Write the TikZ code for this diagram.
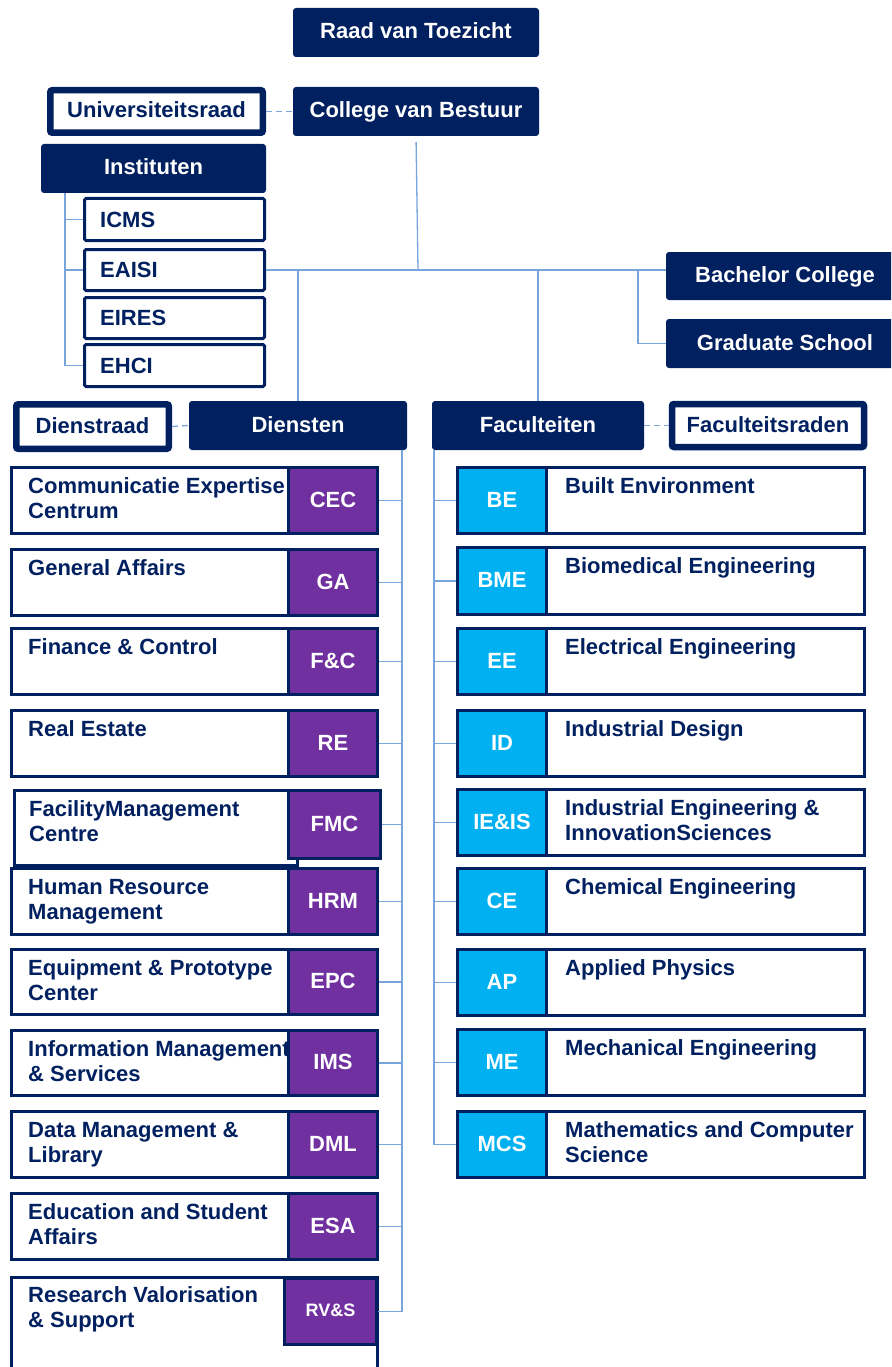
\documentclass[tikz,border=0pt]{standalone}
\usepackage{fontspec}
\setmainfont{Liberation Sans}
\definecolor{navy}{RGB}{0,32,96}
\definecolor{tuepurple}{RGB}{112,48,160}
\definecolor{tuecyan}{RGB}{0,176,240}
\definecolor{wire}{RGB}{120,165,220}
\newcommand\lblfont{\fontsize{22}{25}\selectfont\bfseries}

\tikzset{
  every node/.style={font=\lblfont},
  centred/.style={text height=16pt, text depth=3pt},
  head/.style={fill=navy, draw=none, rounded corners=3pt, text=white, inner sep=0pt, centred},
  council/.style={draw=navy, line width=6.5pt, fill=white, rounded corners=2pt, text=navy,
    inner sep=0pt, centred},
  instbox/.style={draw=navy, line width=3pt, fill=white, rounded corners=1.5pt, inner sep=0pt},
  bodybox/.style={draw=navy, line width=3pt, fill=white, inner sep=0pt},
  svcabbr/.style={draw=navy, line width=3pt, fill=tuepurple, text=white, inner sep=0pt, centred},
  facabbr/.style={draw=navy, line width=3pt, fill=tuecyan, text=white, inner sep=0pt, centred},
  rowtext/.style={text=navy, anchor=base west, inner sep=0pt},
  link/.style={draw=wire, line width=1.3pt},
  dashlink/.style={draw=wire, line width=1.3pt, dash pattern=on 6pt off 4pt},
}

% box given by its outer corners (x1,y1)-(x2,y2) and border width
\newcommand\panel[8]{%
  \pgfmathsetmacro\pw{#5-#3-#7}%
  \pgfmathsetmacro\ph{#6-#4-#7}%
  \node[#1, minimum width=\pw pt, minimum height=\ph pt, outer sep=#7/2 pt,
        anchor=north west] (#2) at (#3,#4) {#8};}

% service row: name, top, bottom, abbreviation, first line, second line
\newcommand\svcrow[6]{%
  \panel{bodybox}{#1-body}{10}{#2}{379}{#3}{3}{}%
  \node[rowtext] (#1-t1) at (28,#2+27) {#5};%
  \if\relax\detokenize{#6}\relax\else\node[rowtext] (#1-t2) at (28,#2+52) {#6};\fi
  \panel{svcabbr}{#1}{287}{#2}{379}{#3}{3}{#4}%
  \draw[link] (#1.east) -- (#1.east -| dbus);}

% faculty row: name, top, bottom, abbreviation, first line, second line
\newcommand\facrow[6]{%
  \panel{bodybox}{#1-body}{456}{#2}{866}{#3}{3}{}%
  \node[rowtext] (#1-t1) at (565,#2+27) {#5};%
  \if\relax\detokenize{#6}\relax\else\node[rowtext] (#1-t2) at (565,#2+52) {#6};\fi
  \panel{facabbr}{#1}{456}{#2}{548}{#3}{3}{#4}%
  \draw[link] (#1.west) -- (#1.west -| fbus);}

% institute box: name, top, bottom, text
\newcommand\instrow[4]{%
  \panel{instbox}{#1}{83}{#2}{266}{#3}{3}{}%
  \node[rowtext] (#1-t) at (100,{(#2+#3)/2+7.5}) {#4};}

\begin{document}
\begin{tikzpicture}[x=1pt,y=-1pt]
\useasboundingbox (0,0) rectangle (891,1367);
\clip (0,0) rectangle (891,1367);

% bus lines
\coordinate (hub) at (418,270);
\coordinate (gradtap) at (638,270);
\coordinate (ibus) at (65,193);
\coordinate (dbus) at (402,450);
\coordinate (fbus) at (434,450);

% board level
\panel{head}{rvt}{293}{8}{539}{57}{0}{Raad van Toezicht}
\panel{head}{cvb}{293}{87}{539}{136}{0}{College van Bestuur}
\panel{council}{univ}{47}{87}{266}{136}{6.5}{Universiteitsraad}
\panel{head}{inst}{41}{144}{266}{193}{0}{Instituten}

% institutes
\instrow{icms}{197}{242}{ICMS}
\instrow{eaisi}{248}{292}{EAISI}
\instrow{eires}{296}{340}{EIRES}
\instrow{ehci}{343}{388}{EHCI}

% schools
\panel{head}{bach}{666}{252}{904}{300}{0}{Bachelor College}
\panel{head}{grad}{666}{319}{904}{368}{0}{Graduate School}

% services and faculties heads
\panel{council}{dienstraad}{13}{401}{172}{452}{6.5}{Dienstraad}
\panel{head}{diensten}{189}{401}{407}{450}{0}{Diensten}
\panel{head}{fac}{432}{401}{644}{450}{0}{Faculteiten}
\panel{council}{facraden}{669}{401}{867}{450}{6}{Faculteitsraden}

% main tree
\draw[link, shorten <=6pt] (cvb.south) -- (hub);
\draw[link] (eaisi.east) -- (eaisi.east -| bach.west);
\draw[link] (diensten.north) -- (diensten.north |- hub);
\draw[link] (fac.north) -- (fac.north |- hub);
\draw[link] (grad.west) -| (gradtap);

% institute branches
\draw[link] (ibus) -- (ibus |- ehci.west);
\draw[link] (ibus |- icms.west) -- (icms.west);
\draw[link] (ibus |- eaisi.west) -- (eaisi.west);
\draw[link] (ibus |- ehci.west) -- (ehci.west);

% advisory councils
\draw[dashlink] (univ.east) -- (cvb.west);
\draw[dashlink] (dienstraad.east) -- (diensten.west);
\draw[dashlink] (fac.east) -- (facraden.west);

% services
\svcrow{cec}{466}{535}{CEC}{Communicatie Expertise}{Centrum}
\svcrow{ga}{548}{617}{GA}{General Affairs}{}
\svcrow{fc}{627}{696}{F\&C}{Finance \& Control}{}
\svcrow{re}{709}{778}{RE}{Real Estate}{}
\panel{bodybox}{fmc-body}{13}{789}{299}{867}{3}{}
\node[rowtext] (fmc-t1) at (29,816) {FacilityManagement};
\node[rowtext] (fmc-t2) at (29,841) {Centre};
\panel{svcabbr}{fmc}{287}{789}{382}{860}{3}{FMC}
\draw[link] (fmc.east) -- (fmc.east -| dbus);
\svcrow{hrm}{867}{936}{HRM}{Human Resource}{Management}
\svcrow{epc}{948}{1016}{EPC}{Equipment \& Prototype}{Center}
\svcrow{ims}{1029}{1097}{IMS}{Information Management}{\& Services}
\svcrow{dml}{1110}{1179}{DML}{Data Management \&}{Library}
\svcrow{esa}{1192}{1261}{ESA}{Education and Student}{Affairs}
\panel{bodybox}{rvs-body}{10}{1276}{379}{1395}{3}{}
\node[rowtext] (rvs-t1) at (28,1302) {Research Valorisation};
\node[rowtext] (rvs-t2) at (28,1327) {\& Support};
\panel{svcabbr, font=\fontsize{18}{20}\selectfont\bfseries, text height=13pt, text depth=2.5pt}{rvs}{283}{1277}{378}{1346}{3}{RV\&S}
\draw[link] (rvs.east) -- (rvs.east -| dbus);
\draw[link] (diensten.south -| dbus) -- (dbus |- rvs.east);

% faculties
\facrow{be}{466}{535}{BE}{Built Environment}{}
\facrow{bme}{546}{616}{BME}{Biomedical Engineering}{}
\facrow{ee}{627}{696}{EE}{Electrical Engineering}{}
\facrow{id}{709}{778}{ID}{Industrial Design}{}
\facrow{ieis}{788}{857}{IE\&IS}{Industrial Engineering \&}{InnovationSciences}
\facrow{ce}{867}{936}{CE}{Chemical Engineering}{}
\facrow{ap}{948}{1017}{AP}{Applied Physics}{}
\facrow{me}{1028}{1097}{ME}{Mechanical Engineering}{}
\facrow{mcs}{1110}{1179}{MCS}{Mathematics and Computer}{Science}
\draw[link] (fac.south -| fbus) -- (fbus |- mcs.west);
\end{tikzpicture}
\end{document}
